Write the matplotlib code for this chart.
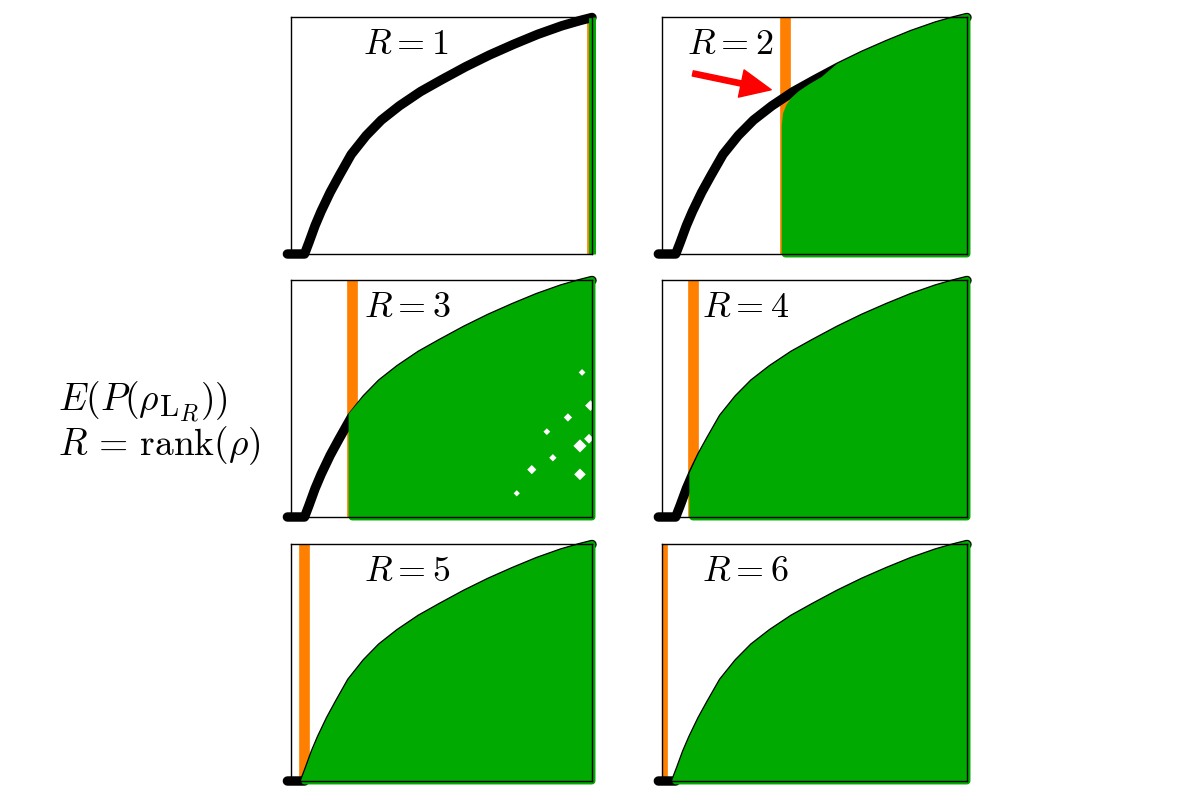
import matplotlib
matplotlib.use('Agg')
import matplotlib.pyplot as plt

plt.rcParams['mathtext.fontset'] = 'cm'

# shared black curve (x, y in 0..1)
curve_x = [-0.012, 0.045, 0.06, 0.08, 0.10, 0.13, 0.16, 0.20, 0.25, 0.30,
           0.36, 0.43, 0.50, 0.58, 0.66, 0.74, 0.82, 0.90, 0.96, 1.0]
curve_y = [0.0, 0.0, 0.05, 0.12, 0.18, 0.26, 0.33, 0.42, 0.50, 0.565,
           0.625, 0.685, 0.735, 0.79, 0.84, 0.885, 0.927, 0.963, 0.985, 0.998]

ranks = [1, 2, 3, 4, 5, 6]
orange_x = [1.0, 0.404, 0.203, 0.101, 0.042, 0.0]
green_x0 = [1.0, 0.404, 0.203, 0.101, 0.045, 0.045]
green_start_y = [0.998, 0.54, 0.43, 0.18, 0.0, 0.0]

# rounded corner of the green area for R=2
corner2_x = [0.408, 0.418, 0.432, 0.455, 0.49, 0.53]
corner2_y = [0.590, 0.622, 0.648, 0.675, 0.705, 0.735]

# white holes left in the green cloud of R=3
holes3_x = [0.96, 0.96, 0.995, 0.80, 0.967, 0.99, 0.87, 0.92, 0.75, 0.85]
holes3_y = [0.30, 0.18, 0.47, 0.20, 0.61, 0.33, 0.25, 0.42, 0.10, 0.36]
holes3_s = [45, 35, 30, 22, 12, 25, 14, 18, 10, 12]

# arrow in the R=2 panel
arrow_tail = (0.101, 0.762)
arrow_tip = (0.358, 0.693)

label_x = [0.381, 0.223, 0.385, 0.275, 0.385, 0.272]

W, H = 1184, 804
col_left = [291, 662]
col_width = [301, 305]
row_bottom = [255, 518, 782]
row_height = 237

fig = plt.figure(figsize=(W / 100, H / 100), dpi=100)

for i, r in enumerate(ranks):
    row, col = i // 2, i % 2
    ax = fig.add_axes([col_left[col] / W, 1 - row_bottom[row] / H,
                       col_width[col] / W, row_height / H])
    ax.set_xlim(0, 1)
    ax.set_ylim(0, 1)
    ax.set_xticks([])
    ax.set_yticks([])
    for s in ax.spines.values():
        s.set_linewidth(1.0)
        s.set_zorder(3)

    ax.axvline(orange_x[i], color='#ff8000', lw=7.7, zorder=0.5)
    ax.plot(curve_x, curve_y, color='black', lw=6.8, solid_capstyle='round',
            solid_joinstyle='round', clip_on=False, zorder=1)

    # green region right of the orange line, under the curve
    x0 = green_x0[i]
    gx = [x0, x0]
    gy = [0.0, green_start_y[i]]
    if r == 2:
        gx += corner2_x
        gy += corner2_y
    last = gx[-1]
    for cx, cy in zip(curve_x, curve_y):
        if cx > last:
            gx.append(cx)
            gy.append(cy)
    gx.append(1.0)
    gy.append(0.0)
    ax.fill(gx, gy, facecolor='#00aa00', edgecolor='#00aa00', lw=5,
            joinstyle='round', clip_on=False, zorder=1.5)

    if r == 3:
        ax.scatter(holes3_x, holes3_y, s=holes3_s, color='white', marker='D',
                   lw=0, zorder=1.6)

    ax.text(label_x[i], 0.847, rf'$R={r}$', transform=ax.transAxes,
            ha='center', va='baseline', fontsize=26, zorder=4)

    if r == 2:
        ax.annotate('', xy=arrow_tip, xytext=arrow_tail,
                    arrowprops=dict(facecolor='red', edgecolor='red', width=3.8,
                                    headwidth=20, headlength=22, shrink=0))

# side label, first line built from pieces so the subscripts stay large
renderer = fig.canvas.get_renderer()
base_y = 1 - 410 / H
pieces = [(r'$E(P(\rho$', 27, 0, -1), (r'$\mathrm{L}$', 22, -6, 0),
          (r'$R$', 17, -11, 2), (r'$))$', 27, 0, 0)]
x = 58 / W
for txt, size, dy, gap in pieces:
    t = fig.text(x, base_y + dy / H, txt, fontsize=size, va='baseline')
    x = t.get_window_extent(renderer).x1 / W + gap / W
fig.text(58 / W, 1 - 455 / H, r'$R\,=\,\mathrm{rank}(\rho)$', fontsize=27,
         va='baseline')

fig.savefig('out.png', dpi=100)
